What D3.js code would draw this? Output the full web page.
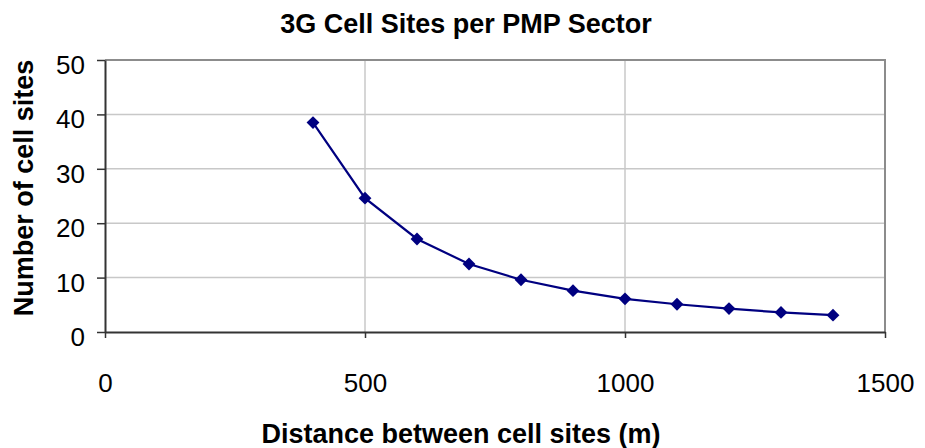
<!DOCTYPE html>
<html>
<head>
<meta charset="utf-8">
<script src="https://cdn.jsdelivr.net/npm/d3@7"></script>
<style>
  body { margin: 0; background: #fff; }
  text { font-family: "Liberation Sans", Arial, sans-serif; fill: #000; }
</style>
</head>
<body>
<div id="chart"></div>
<script>
// values
let distances = [400, 500, 600, 700, 800, 900, 1000, 1100, 1200, 1300, 1400]
let cellSites = [38.5, 24.6, 17.1, 12.5, 9.6, 7.6, 6.1, 5.1, 4.3, 3.6, 3.1]
let xTicks = [0, 500, 1000, 1500]
let yTicks = [0, 10, 20, 30, 40, 50]

let width = 925
let height = 448
let plotLeft = 105, plotRight = 885, plotTop = 60, plotBottom = 332

let svg = d3.select('#chart')
  .append('svg')
  .attr('width', width)
  .attr('height', height)

let x = d3.scaleLinear().domain([0, 1500]).range([plotLeft, plotRight])
let y = d3.scaleLinear().domain([0, 50]).range([plotBottom, plotTop])

// gridlines
svg.append('g')
  .selectAll('line')
  .data(yTicks.filter(d => d > 0 && d < 50))
  .enter()
  .append('line')
  .attr('x1', plotLeft)
  .attr('x2', plotRight)
  .attr('y1', d => y(d))
  .attr('y2', d => y(d))
  .style('stroke', '#c8c8c8')
  .style('stroke-width', 1.5)

svg.append('g')
  .selectAll('line')
  .data(xTicks.filter(d => d > 0 && d < 1500))
  .enter()
  .append('line')
  .attr('x1', d => x(d))
  .attr('x2', d => x(d))
  .attr('y1', plotTop)
  .attr('y2', plotBottom)
  .style('stroke', '#c8c8c8')
  .style('stroke-width', 1.5)

// plot border top and right
svg.append('path')
  .attr('d', `M${plotLeft},${plotTop}H${plotRight}V${plotBottom}`)
  .style('fill', 'none')
  .style('stroke', '#8c8c8c')
  .style('stroke-width', 2)

// axes
let xAxis = svg.append('g')
  .attr('transform', `translate(0,${plotBottom})`)
  .call(d3.axisBottom(x).tickValues(xTicks).tickFormat(d3.format('d'))
    .tickSize(6).tickPadding(36).tickSizeOuter(0))
xAxis.select('.domain').style('stroke', '#333').style('stroke-width', 2)
xAxis.selectAll('.tick line').style('stroke', '#333').style('stroke-width', 1.5)
xAxis.selectAll('text').style('font-size', '26px')

let yAxis = svg.append('g')
  .attr('transform', `translate(${plotLeft},0)`)
  .call(d3.axisLeft(y).tickValues(yTicks).tickSize(8).tickPadding(12).tickSizeOuter(0))
yAxis.select('.domain').style('stroke', '#333').style('stroke-width', 2)
yAxis.selectAll('.tick line').style('stroke', '#333').style('stroke-width', 1.5)
yAxis.selectAll('text').style('font-size', '26px').attr('dy', '0.52em')

// series line
let line = d3.line()
  .x((d, i) => x(distances[i]))
  .y(d => y(d))

svg.append('path')
  .datum(cellSites)
  .attr('d', line)
  .style('fill', 'none')
  .style('stroke', '#000080')
  .style('stroke-width', 2.2)

svg.append('g')
  .selectAll('path')
  .data(cellSites)
  .enter()
  .append('path')
  .attr('d', d3.symbol().type(d3.symbolDiamond2).size(105))
  .attr('transform', (d, i) => `translate(${x(distances[i])},${y(d)})`)
  .style('fill', '#000080')

// titles
svg.append('text')
  .attr('x', 466)
  .attr('y', 33)
  .attr('text-anchor', 'middle')
  .style('font-size', '27px')
  .style('font-weight', 'bold')
  .text('3G Cell Sites per PMP Sector')

svg.append('text')
  .attr('x', 461)
  .attr('y', 443)
  .attr('text-anchor', 'middle')
  .style('font-size', '27px')
  .style('font-weight', 'bold')
  .text('Distance between cell sites (m)')

svg.append('text')
  .attr('transform', 'translate(33,188) rotate(-90)')
  .attr('text-anchor', 'middle')
  .style('font-size', '27px')
  .style('font-weight', 'bold')
  .text('Number of cell sites')
</script>
</body>
</html>
